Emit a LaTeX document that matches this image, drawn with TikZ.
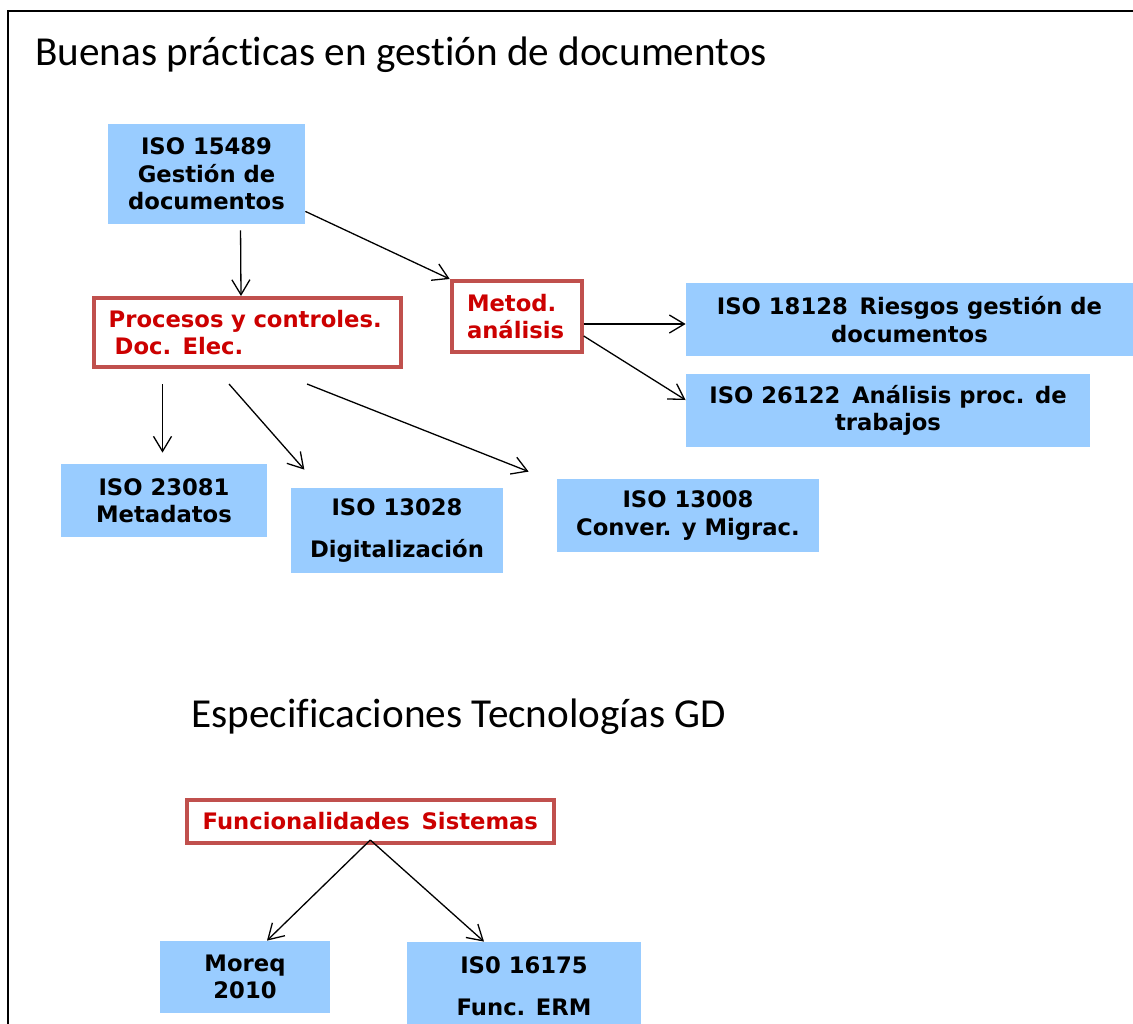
\documentclass[tikz,border=0pt]{standalone}
\usepackage{fontspec}
\usetikzlibrary{arrows.meta}
\newfontfamily\slidefont[Ligatures=NoCommon]{Carlito}
\newfontfamily\boxfont{DejaVu Sans}
\definecolor{isoblue}{RGB}{153,204,255}
\definecolor{metborder}{RGB}{192,80,77}
\definecolor{metred}{RGB}{204,0,0}
\begin{document}
\begin{tikzpicture}[x=0.5pt, y=-0.5pt, >={Straight Barb[length=7.5pt,width=9pt]},
		isobox/.style={fill=isoblue, inner sep=0pt, align=center, font=\boxfont\bfseries\fontsize{11.35}{13.75}\selectfont},
		metbox/.style={draw=metborder, line width=2pt, fill=white, text=metred, inner ysep=0pt, align=left, font=\boxfont\bfseries\fontsize{11.35}{13.75}\selectfont},
		slidetitle/.style={anchor=base west, inner sep=0pt, font=\slidefont\fontsize{20.6}{24}\selectfont},
		edge/.style={->, line width=0.65pt}]
		\useasboundingbox (0,0) rectangle (1133,1023);
		% Frame
		\draw[line width=1pt] (8,1030) -- (8,11) -- (1140,11);
		
		% Titles
		\node[slidetitle] (title1) at (35,65) {Buenas prácticas en gestión de documentos};
		\node[slidetitle] (title2) at (191,727) {Especificaciones Tecnologías GD};
		
		% Nodes
		\node[isobox, minimum width=98.5pt, minimum height=50pt] (iso15489) at (206.5,174) {ISO 15489\\Gestión de\\documentos};
		\node[metbox, inner xsep=7.35pt, text width=138.8pt, minimum height=34.5pt] (procesos) at (247.5,332.5) {Procesos y controles.\\\hspace*{3pt}Doc. Elec.};
		\node[metbox, inner xsep=7.65pt, text width=49.7pt, minimum height=35.5pt] (metod) at (516.7,316.5) {Metod.\\análisis};
		\node[isobox, minimum width=223.5pt, minimum height=36.5pt] (iso18128) at (909.5,319.5) {ISO 18128 \,Riesgos gestión de\\documentos};
		\node[isobox, minimum width=202pt, minimum height=36.5pt] (iso26122) at (888,410.5) {ISO 26122 \,Análisis proc. de\\trabajos};
		\node[isobox, minimum width=102.8pt, minimum height=36.5pt] (iso23081) at (164,500.5) {ISO 23081\\Metadatos};
		\node[isobox, minimum width=105.75pt, minimum height=42.5pt] (iso13028) at (397,530.5) {ISO 13028\\[7.5pt]Digitalización};
		\node[isobox, minimum width=131pt, minimum height=36.5pt] (iso13008) at (688,515.5) {ISO 13008\\Conver. y Migrac.};
		\node[metbox, inner xsep=0pt, minimum width=183.3pt, minimum height=21.5pt] (funcion) at (370.3,821.5) {Funcionalidades \,Sistemas};
		\node[isobox, minimum width=85pt, minimum height=36pt] (moreq) at (245,977) {Moreq\\2010};
		\node[isobox, minimum width=117pt, minimum height=44pt] (iso16175) at (524,986) {IS0 16175\\[7pt]Func. ERM};
		
		% Edges
		\draw[edge, shorten <=3pt] ([xshift=17pt]iso15489.south) -- ([xshift=-3.25pt]procesos.north);
		\draw[edge] ([yshift=6.5pt]iso15489.south east) -- (metod.north west);
		\draw[edge] ([yshift=-3.75pt]metod.east) -- ([yshift=-3.75pt]metod.east -| iso18128.west);
		\draw[edge] ([yshift=-9.75pt]metod.east) -- ([yshift=5.25pt]iso26122.west);
		\draw[edge, shorten <=7.5pt, shorten >=5.5pt] ([xshift=-42.5pt]procesos.south) -- ([xshift=-42.5pt]procesos.south |- iso23081.north);
		\draw[edge] ([xshift=-9.25pt,yshift=-7.5pt]procesos.south) -- ([xshift=6.75pt,yshift=9pt]iso13028.north west);
		\draw[edge] ([xshift=29.75pt,yshift=-7.5pt]procesos.south) -- ([xshift=-14pt,yshift=3.5pt]iso13008.north west);
		\draw[edge] ([yshift=2.5pt]funcion.south) -- ([xshift=11pt]moreq.north);
		\draw[edge] ([yshift=2.5pt]funcion.south) -- ([xshift=-20pt]iso16175.north);
		
	\end{tikzpicture}
\end{document}
